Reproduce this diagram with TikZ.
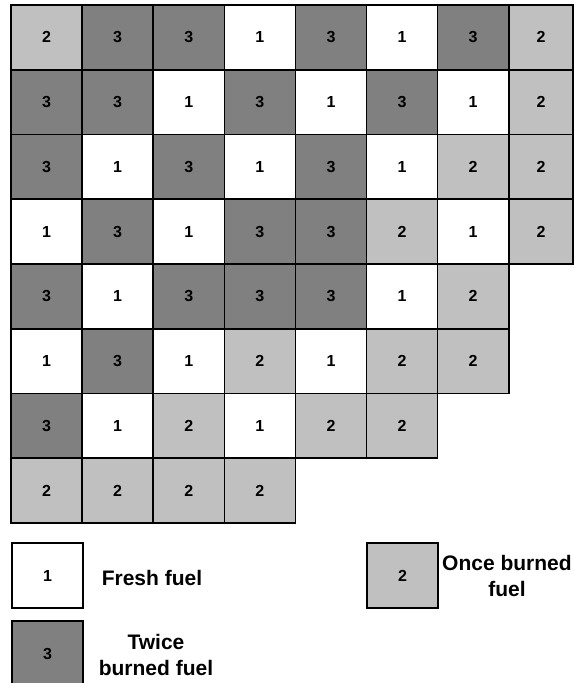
\documentclass[tikz,border=0pt]{standalone}
\usepackage{fontspec}
\setmainfont{Liberation Sans}
\definecolor{grayA}{RGB}{192,192,192}
\definecolor{grayB}{RGB}{128,128,128}
\begin{document}
\begin{tikzpicture}[x=1pt,y=-1pt,
  cell/.style={draw=black, line width=1.6pt, minimum height=64.75pt,
    inner sep=0pt, outer sep=0pt, font=\fontsize{16}{19}\selectfont\bfseries},
  f1/.style={cell, fill=white},
  f2/.style={cell, fill=grayA},
  f3/.style={cell, fill=grayB},
  lab/.style={font=\fontsize{21}{26}\selectfont\bfseries, align=center, inner sep=0pt}]
\useasboundingbox (0,0) rectangle (574,683);
\foreach \row [count=\r] in {{2,3,3,1,3,1,3,2},{3,3,1,3,1,3,1,2},{3,1,3,1,3,1,2,2},{1,3,1,3,3,2,1,2},{3,1,3,3,3,1,2},{1,3,1,2,1,2,2},{3,1,2,1,2,2},{2,2,2,2}}{
  \foreach \v [count=\c] in \row {
    \ifnum\c=8
      \node[f\v, minimum width=64pt] (c\r-\c) at (541,{5+64.75*(\r-0.5)}) {\v};
    \else
      \node[f\v, minimum width=71.1pt] (c\r-\c) at ({11+71.1*(\c-0.5)},{5+64.75*(\r-0.5)}) {\v};
    \fi
  }
}
\node[f1, minimum width=71pt, minimum height=65pt] (k1) at (47.5,575.5) {1};
\node[f2, minimum width=71pt, minimum height=65pt] (k2) at (402.5,575.5) {2};
\node[f3, minimum width=71pt, minimum height=65pt] (k3) at (47.5,653.5) {3};
\node[lab] (t1) at (152,578) {Fresh fuel};
\node[lab] (t2) at (507,576) {Once burned\\fuel};
\node[lab] (t3) at (156,655) {Twice\\burned fuel};
\end{tikzpicture}
\end{document}
